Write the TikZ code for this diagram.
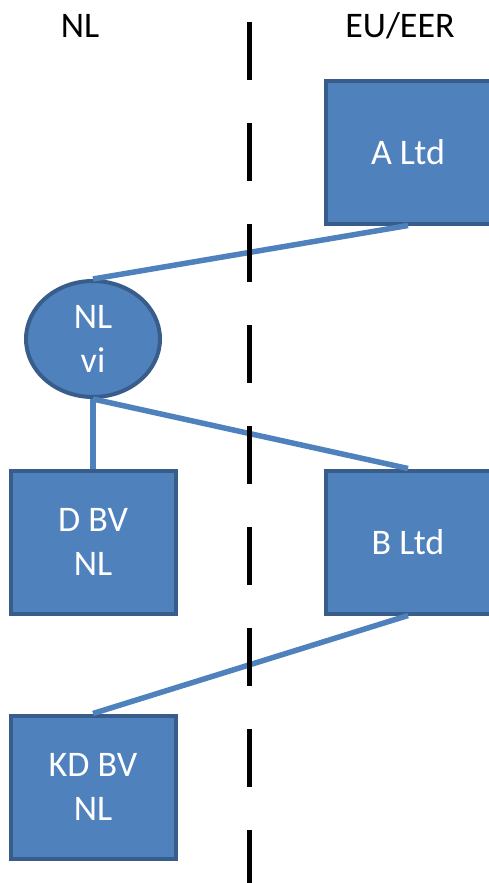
\documentclass[tikz,border=0pt]{standalone}
\usepackage{fontspec}
\setmainfont{Carlito}
\usetikzlibrary{shapes.geometric}
\definecolor{ofblue}{HTML}{4F81BD}
\definecolor{ofdark}{HTML}{385D8A}
\begin{document}
\begin{tikzpicture}[x=1pt, y=-1pt,
  entity/.style={draw=ofdark, fill=ofblue, line width=4pt, text=white, align=center,
    minimum width=165pt, minimum height=143pt, font=\fontsize{36}{44}\selectfont},
  hybrid/.style={entity, ellipse, minimum width=134pt, minimum height=116pt},
  link/.style={ofblue, line width=5.5pt},
  border/.style={line width=5pt, dash pattern=on 58pt off 43pt}]
  \useasboundingbox (0,0) rectangle (488,883);
  \node[font=\fontsize{36}{40}\selectfont] (nl) at (80,26) {NL};
  \node[font=\fontsize{36}{40}\selectfont] (eu) at (400,26) {EU/EER};
  \node[entity] (altd) at (408,152) {A Ltd};
  \node[hybrid] (vi) at (93,339) {NL\\vi};
  \node[entity] (dbv) at (93,542) {D BV\\NL};
  \node[entity] (bltd) at (408,542) {B Ltd};
  \node[entity] (kdbv) at (93,787) {KD BV\\NL};
  \draw[link] (altd.south) -- (vi.north);
  \draw[link] (vi.south) -- (dbv.north);
  \draw[link] (vi.south) -- (bltd.north);
  \draw[link] (bltd.south) -- (kdbv.north);
  \coordinate (top) at (249,22);
  \coordinate (bottom) at (249,890);
  \draw[border] (top) -- (bottom);
\end{tikzpicture}
\end{document}
